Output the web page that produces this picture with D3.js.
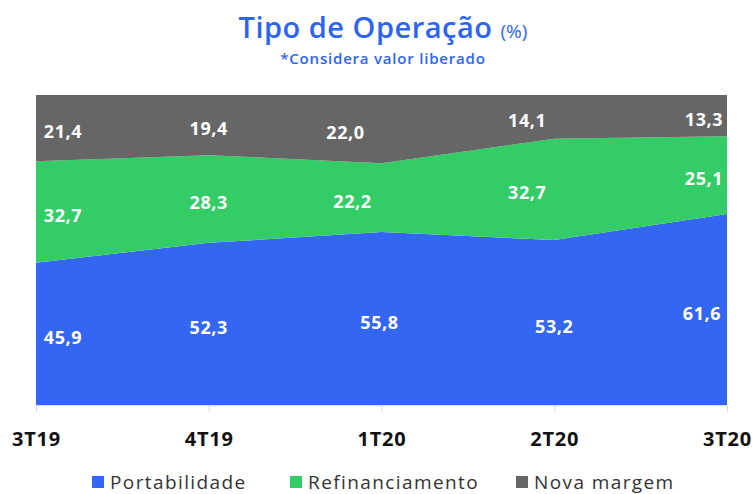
<!DOCTYPE html>
<html>
<head>
<meta charset="utf-8">
<script src="https://cdn.jsdelivr.net/npm/d3@7"></script>
<style>
  body { margin: 0; background: #fff; }
  text { font-family: "Open Sans", sans-serif; }
</style>
</head>
<body>
<svg id="chart" width="756" height="494"></svg>
<script>
const periods = ['3T19', '4T19', '1T20', '2T20', '3T20'];
const portabilidade = [45.9, 52.3, 55.8, 53.2, 61.6];
const refinanciamento = [32.7, 28.3, 22.2, 32.7, 25.1];
const novaMargem = [21.4, 19.4, 22.0, 14.1, 13.3];
const seriesNames = ['Portabilidade', 'Refinanciamento', 'Nova margem'];
const colors = ['#3366f2', '#33cc66', '#666666'];

// small nudges for the value labels, per period
const labelDx = [[27, 0, -2, 0, -25], [27, 0, -29, -27, -23], [27, 0, -36, -27, -23]];

const width = 756, height = 494;
const margin = { top: 95, right: 29, bottom: 89, left: 36 };

const svg = d3.select('#chart');

const rows = periods.map((p, i) => ({
  period: p,
  Portabilidade: portabilidade[i],
  Refinanciamento: refinanciamento[i],
  'Nova margem': novaMargem[i]
}));

const stacked = d3.stack().keys(seriesNames)(rows);

const x = d3.scalePoint().domain(periods).range([margin.left, width - margin.right]);
const y = d3.scaleLinear().domain([0, 100]).range([height - margin.bottom, margin.top]);

const area = d3.area()
  .x(d => x(d.data.period))
  .y0(d => y(d[0]))
  .y1(d => y(d[1]));

svg.append('g').selectAll('path')
  .data(stacked)
  .join('path')
  .attr('d', area)
  .attr('fill', (d, i) => colors[i]);

// value labels
stacked.forEach((s, si) => {
  svg.append('g').selectAll('text')
    .data(s)
    .join('text')
    .attr('x', (d, i) => x(d.data.period) + labelDx[si][i])
    .attr('y', d => (y(d[0]) + y(d[1])) / 2 + 10)
    .attr('text-anchor', 'middle')
    .attr('font-size', 18)
    .attr('font-weight', 700)
    .attr('letter-spacing', 0.6)
    .attr('fill', '#fff')
    .text(d => d3.format('.1f')(d.data[s.key]).replace('.', ','));
});

// x axis
const xAxis = svg.append('g')
  .attr('transform', `translate(0,${height - margin.bottom})`)
  .call(d3.axisBottom(x).tickSize(7).tickPadding(20));
xAxis.select('.domain').attr('stroke', '#d9d9d9');
xAxis.selectAll('.tick line').attr('stroke', '#d9d9d9');
xAxis.selectAll('.tick text')
  .attr('font-size', 20)
  .attr('font-weight', 700)
  .attr('letter-spacing', 0.8)
  .attr('fill', '#111')
  .attr('font-family', '"Open Sans", sans-serif');

// title
const title = svg.append('text')
  .attr('x', 383).attr('y', 38)
  .attr('text-anchor', 'middle')
  .attr('fill', '#2e64f2');
title.append('tspan').attr('font-size', 29).attr('font-weight', 600).attr('letter-spacing', 0.5).text('Tipo de Operação ');
title.append('tspan').attr('font-size', 19).text('(%)');

svg.append('text')
  .attr('x', 383).attr('y', 64)
  .attr('text-anchor', 'middle')
  .attr('fill', '#2e64f2')
  .attr('font-size', 15)
  .attr('font-weight', 600)
  .attr('letter-spacing', 0.8)
  .text('*Considera valor liberado');

// legend
const legendX = [92, 290, 516];
const legend = svg.append('g').selectAll('g')
  .data(seriesNames)
  .join('g')
  .attr('transform', (d, i) => `translate(${legendX[i]},476)`);
legend.append('rect').attr('width', 12).attr('height', 12).attr('fill', (d, i) => colors[i]);
legend.append('text')
  .attr('x', 18).attr('y', 13)
  .attr('font-size', 19)
  .attr('fill', '#333')
  .attr('letter-spacing', 1.4)
  .text(d => d);
</script>
</body>
</html>
